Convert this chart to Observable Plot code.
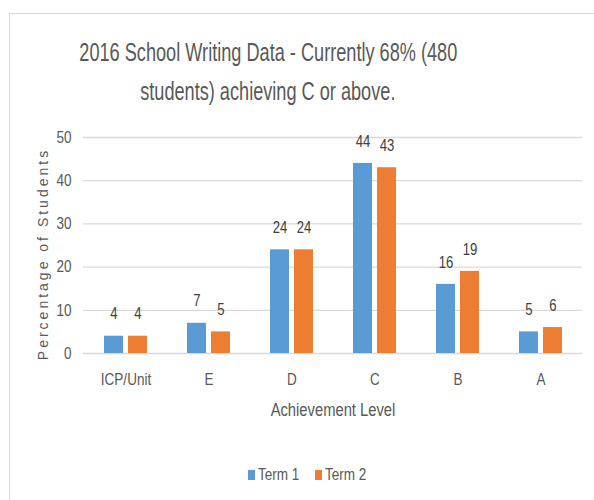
<!DOCTYPE html>
<html>
<head>
<meta charset="utf-8">
<script src="https://cdn.jsdelivr.net/npm/d3@7"></script>
<script src="https://cdn.jsdelivr.net/npm/@observablehq/plot@0.6"></script>
<style>
  html, body { margin: 0; padding: 0; background: #fff; overflow: hidden; }
  body { width: 594px; height: 500px; position: relative; font-family: "Liberation Sans", Arial, sans-serif; }
  #frame { position: absolute; left: 9px; top: 13px; width: 700px; height: 600px; border: 1px solid #d9d9d9; box-sizing: border-box; }
  #title { position: absolute; left: 0; top: 33px; width: 536px; text-align: center; font-size: 25px; line-height: 39px; color: #595959; }
  #title span { display: inline-block; white-space: nowrap; transform: scaleX(0.726); }
  #ytitle { position: absolute; left: -107px; top: 244px; width: 300px; height: 20px; line-height: 20px; text-align: center; font-size: 14px; letter-spacing: 3px; color: #595959; transform: rotate(-90deg); white-space: nowrap; }
  #chart { position: absolute; left: 0; top: 100px; }
  #legend { position: absolute; top: 0; left: 0; width: 594px; height: 500px; font-size: 16.5px; color: #595959; pointer-events: none; }
  .lbl { position: absolute; top: 464px; line-height: 20px; white-space: nowrap; transform: scaleX(0.82); transform-origin: 0 50%; }
  .sw { position: absolute; top: 470px; width: 7px; height: 10px; }
</style>
</head>
<body>
<div id="frame"></div>
<div id="title"><span>2016 School Writing Data - Currently 68% (480</span><br><span>students) achieving C or above.</span></div>
<div id="chart"></div>
<div id="ytitle"></div>
<div id="legend"></div>
<script>
const categories = ["ICP/Unit", "E", "D", "C", "B", "A"];
const term1 = [4, 7, 24, 44, 16, 5];
const term2 = [4, 5, 24, 43, 19, 6];
const seriesNames = ["Term 1", "Term 2"];
const seriesColors = ["#5b9bd5", "#ed7d31"];
const yTicks = [0, 10, 20, 30, 40, 50];
const xTitle = "Achievement Level";
const yTitle = "Percentage of Students";

const rows1 = categories.map((c, i) => ({category: c, value: term1[i]}));
const rows2 = categories.map((c, i) => ({category: c, value: term2[i]}));

const chart = Plot.plot({
  width: 594,
  height: 340,
  marginTop: 37,
  marginBottom: 87,
  marginLeft: 83,
  marginRight: 12,
  style: {fontFamily: '"Liberation Sans", Arial, sans-serif', color: "#595959", background: "transparent", overflow: "visible"},
  x: {domain: categories, padding: 0},
  y: {domain: [0, 50]},
  marks: [
    Plot.gridY(yTicks, {stroke: "#d9d9d9", strokeOpacity: 1, strokeWidth: 1.3}),
    Plot.axisY(yTicks, {tickSize: 0, tickPadding: 12, fontSize: 16.5, label: null}),
    Plot.axisX({tickSize: 0, tickPadding: 20, fontSize: 16.5, label: null}),
    Plot.barY(rows1, {x: "category", y: "value", fill: seriesColors[0], insetLeft: 20, insetRight: 44}),
    Plot.barY(rows2, {x: "category", y: "value", fill: seriesColors[1], insetLeft: 44, insetRight: 20}),
    Plot.text(rows1, {x: "category", y: "value", text: "value", dx: -12, dy: -22, fontSize: 16, fill: "#404040"}),
    Plot.text(rows2, {x: "category", y: "value", text: "value", dx: 12, dy: -22, fontSize: 16, fill: "#404040"}),
    Plot.text([xTitle], {text: d => d, frameAnchor: "bottom", dy: 62, fontSize: 18, fill: "#595959"})
  ]
});
document.getElementById("chart").appendChild(chart);

// condensed lettering (like the original narrow typeface), kept at each label's anchor
d3.select(chart).selectAll("text").each(function() {
  const len = this.getComputedTextLength();
  if (len > 0) {
    this.setAttribute("textLength", (len * 0.82).toFixed(2));
    this.setAttribute("lengthAdjust", "spacingAndGlyphs");
  }
});

document.getElementById("ytitle").textContent = yTitle;

const legend = document.getElementById("legend");
const swatchX = [248, 315];
const labelX = [258, 325];
seriesNames.forEach((name, i) => {
  const sw = document.createElement("div");
  sw.className = "sw";
  sw.style.left = swatchX[i] + "px";
  sw.style.background = seriesColors[i];
  legend.appendChild(sw);
  const lb = document.createElement("div");
  lb.className = "lbl";
  lb.style.left = labelX[i] + "px";
  lb.textContent = name;
  legend.appendChild(lb);
});
</script>
</body>
</html>
